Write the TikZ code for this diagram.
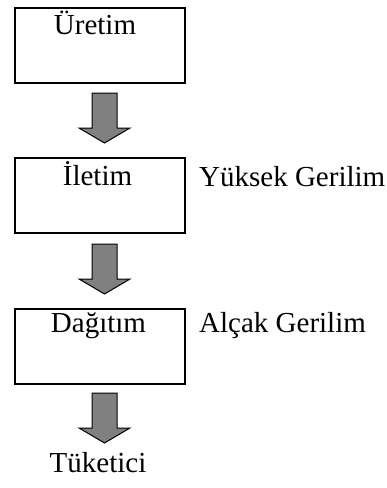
\documentclass[tikz,border=0pt]{standalone}
\usepackage{fontspec}
\setmainfont{Liberation Serif}
\begin{document}
\begin{tikzpicture}[x=1pt,y=-1pt,
  box/.style={draw=black,line width=2pt,minimum width=170pt,minimum height=75pt,inner sep=0pt,anchor=north west},
  txt/.style={anchor=base,inner sep=0pt,font=\fontsize{29}{34}\selectfont},
  lbl/.style={anchor=base west,inner sep=0pt,font=\fontsize{29}{34}\selectfont},
  arrowfill/.style={draw=black,line width=1pt,fill=black!50,line join=miter},
  downarr/.pic={\draw[arrowfill] (-12.5,0) -- (12.5,0) -- (12.5,35) -- (25.5,35) -- (0,50) -- (-25.5,35) -- (-12.5,35) -- cycle;}
]
\useasboundingbox (0,0) rectangle (387,488);
\node[box] (b1) at (14,7) {};
\node[box] (b2) at (14,157) {};
\node[box] (b3) at (14,308) {};
\node[txt] (t1) at (95,34) {Üretim};
\node[txt] (t2) at (97.5,185) {İletim};
\node[txt] (t3) at (98.5,332) {Dağıtım};
\node[lbl] (l2) at (199,186) {Yüksek Gerilim};
\node[lbl] (l3) at (199,332) {Alçak Gerilim};
\node[txt] (t4) at (98,472) {Tüketici};
\coordinate (a1) at (104.5,93);
\coordinate (a2) at (104.5,244);
\coordinate (a3) at (104.5,393);
\pic at (a1) {downarr};
\pic at (a2) {downarr};
\pic at (a3) {downarr};
\end{tikzpicture}
\end{document}
